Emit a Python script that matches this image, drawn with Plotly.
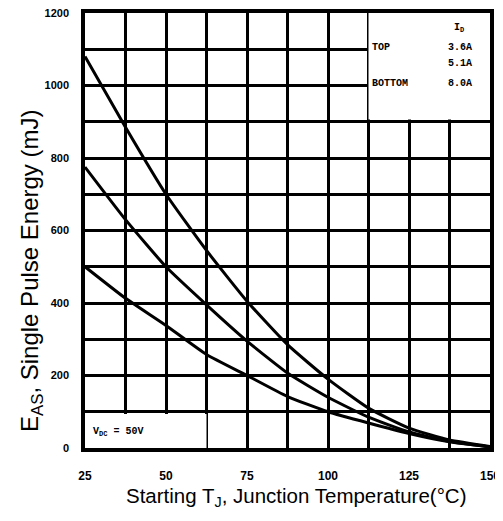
import plotly.graph_objects as go

# Data
temps = [25, 37.5, 50, 62.5, 75, 87.5, 100, 112.5, 125, 137.5, 150]
e_top_36a = [1080, 885, 700, 545, 405, 285, 190, 110, 55, 22, 4]
e_mid_51a = [775, 630, 500, 395, 295, 207, 140, 85, 44, 18, 3]
e_bot_80a = [500, 413, 338, 258, 200, 142, 100, 69, 40, 17, 3]

x_ticks = [25, 50, 75, 100, 125, 150]
y_ticks = [0, 200, 400, 600, 800, 1000, 1200]

legend_labels = ["TOP", "", "BOTTOM"]
legend_currents = ["3.6A", "5.1A", "8.0A"]

fig = go.Figure()
for ys in (e_top_36a, e_mid_51a, e_bot_80a):
    fig.add_trace(go.Scatter(x=temps, y=ys, mode="lines",
                             line=dict(color="black", width=3, shape="spline", smoothing=0.5),
                             showlegend=False, hoverinfo="skip"))

# The page body has an 8px margin, so the figure is sized to fit inside it
fig.update_layout(
    width=487, height=505,
    margin=dict(l=77, r=5, t=5, b=65, autoexpand=False),
    paper_bgcolor="white", plot_bgcolor="white",
    font=dict(family="Liberation Sans, Arial, sans-serif", color="black"),
    showlegend=False,
)

fig.update_xaxes(
    range=[25, 150], tickvals=x_ticks, ticktext=[str(v) for v in x_ticks],
    showgrid=True, gridcolor="black", gridwidth=2.5,
    minor=dict(tick0=25, dtick=12.5, showgrid=True, gridcolor="black", gridwidth=2.5),
    showline=True, linecolor="black", linewidth=3.5, mirror=True,
    ticks="", ticklabelstandoff=14, zeroline=False, automargin=False,
    ticklabeloverflow="allow",
    tickfont=dict(size=12, weight="bold"),
)
fig.update_yaxes(
    range=[0, 1200], tickvals=y_ticks, ticktext=[str(v) for v in y_ticks],
    showgrid=True, gridcolor="black", gridwidth=3,
    minor=dict(tick0=0, dtick=100, showgrid=True, gridcolor="black", gridwidth=2.5),
    showline=True, linecolor="black", linewidth=3.5, mirror=True,
    ticks="", ticklabelstandoff=10, zeroline=False, automargin=False,
    ticklabeloverflow="allow",
    tickfont=dict(size=11, weight="bold"),
)

# White panels for the legend box and the VDC note
fig.add_shape(type="rect", xref="x", yref="y", x0=112.5, x1=150, y0=906, y1=1200,
              fillcolor="white", line=dict(width=0), layer="between")
fig.add_shape(type="rect", xref="x", yref="y", x0=25, x1=62.5, y0=0, y1=94,
              fillcolor="white", line=dict(width=0), layer="between")

mono = dict(family="Liberation Mono, DejaVu Sans Mono, monospace", size=10, color="black", weight="bold")
fig.add_annotation(x=142.5, y=1160, xref="x", yref="y", text="I<sub>D</sub>", showarrow=False,
                   font=mono, xanchor="right")
ys_leg = [1105, 1060, 1005]
for lab, cur, yv in zip(legend_labels, legend_currents, ys_leg):
    if lab:
        fig.add_annotation(x=113, y=yv, xref="x", yref="y", text=lab, showarrow=False,
                           font=mono, xanchor="left")
    fig.add_annotation(x=145, y=yv, xref="x", yref="y", text=cur, showarrow=False,
                       font=mono, xanchor="right")

fig.add_annotation(x=27, y=45, xref="x", yref="y", text="V<sub>DC</sub> = 50V", showarrow=False,
                   font=mono, xanchor="left")

# Axis titles
fig.add_annotation(xref="paper", yref="paper", x=(296 - 85) / 405, y=(448 - 497) / 435,
                   text="Starting T<sub>J</sub>, Junction Temperature(°C)", showarrow=False,
                   font=dict(size=20.5), xanchor="center", yanchor="middle")
fig.add_annotation(xref="paper", yref="paper", x=(31 - 85) / 405, y=(448 - 271) / 435,
                   text="E<sub>AS</sub>, Single Pulse Energy (mJ)", showarrow=False,
                   font=dict(size=24), textangle=-90, xanchor="center", yanchor="middle")

fig.write_html("out.html")
